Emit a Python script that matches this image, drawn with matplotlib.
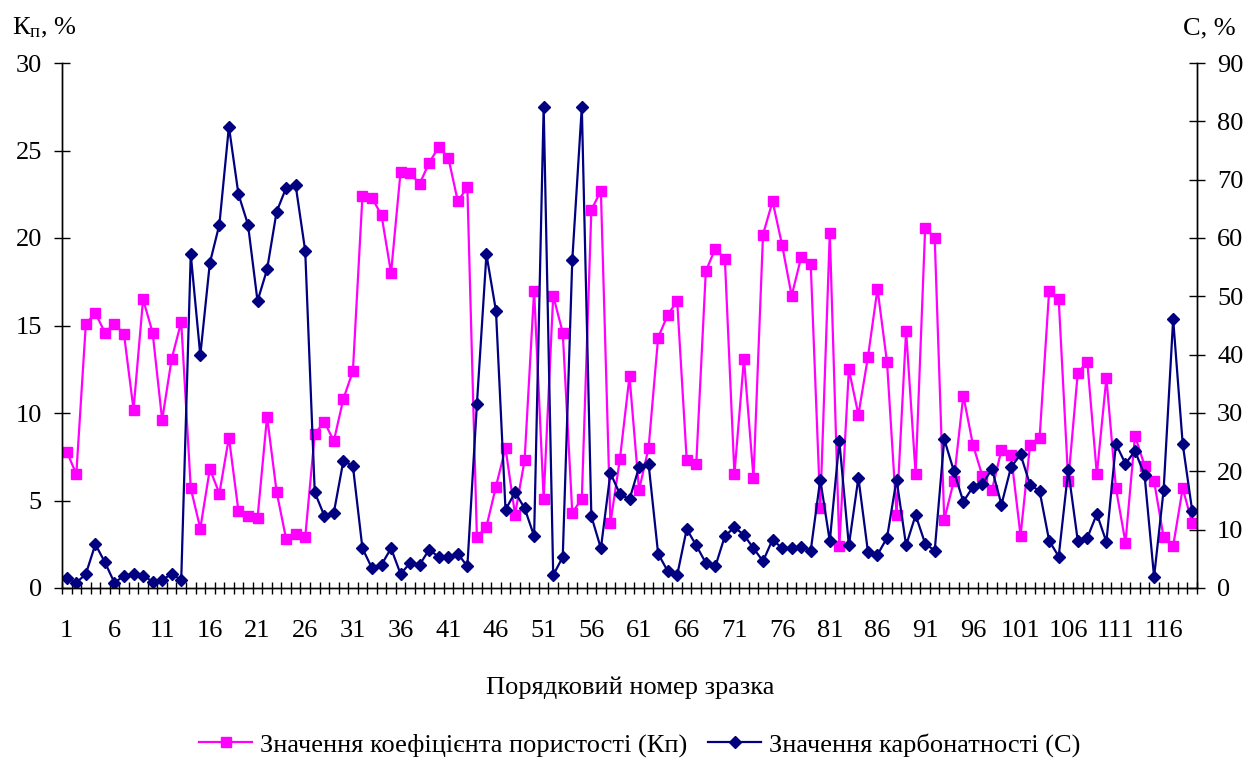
import numpy as np
from matplotlib import pyplot as plt

plt.rcParams['font.family'] = ['Liberation Serif', 'DejaVu Serif']
plt.rcParams['mathtext.fontset'] = 'custom'
plt.rcParams['mathtext.rm'] = 'Liberation Serif'
plt.rcParams['mathtext.it'] = 'Liberation Serif:italic'

# коефіцієнт пористості, % (ліва вісь)
kp = [7.8, 6.5, 15.1, 15.7, 14.6, 15.1, 14.5, 10.2, 16.5, 14.6,
      9.6, 13.1, 15.2, 5.7, 3.4, 6.8, 5.4, 8.6, 4.4, 4.1,
      4.0, 9.8, 5.5, 2.8, 3.1, 2.9, 8.8, 9.5, 8.4, 10.8,
      12.4, 22.4, 22.3, 21.3, 18.0, 23.8, 23.7, 23.1, 24.3, 25.2,
      24.6, 22.1, 22.9, 2.9, 3.5, 5.8, 8.0, 4.2, 7.3, 17.0,
      5.1, 16.7, 14.6, 4.3, 5.1, 21.6, 22.7, 3.7, 7.4, 12.1,
      5.6, 8.0, 14.3, 15.6, 16.4, 7.3, 7.1, 18.1, 19.4, 18.8,
      6.5, 13.1, 6.3, 20.2, 22.1, 19.6, 16.7, 18.9, 18.5, 4.6,
      20.3, 2.4, 12.5, 9.9, 13.2, 17.1, 12.9, 4.2, 14.7, 6.5,
      20.6, 20.0, 3.9, 6.1, 11.0, 8.2, 6.4, 5.6, 7.9, 7.6,
      3.0, 8.2, 8.6, 17.0, 16.5, 6.1, 12.3, 12.9, 6.5, 12.0,
      5.7, 2.6, 8.7, 7.0, 6.1, 2.9, 2.4, 5.7, 3.7]

# карбонатність, % (права вісь)
carb = [1.7, 0.9, 2.4, 7.5, 4.4, 0.9, 2.1, 2.4, 2.1, 1.1,
        1.4, 2.4, 1.4, 57.2, 39.9, 55.7, 62.3, 79.1, 67.5, 62.3,
        49.2, 54.6, 64.5, 68.6, 69.0, 57.8, 16.4, 12.4, 12.9, 21.8,
        20.9, 6.8, 3.4, 4.0, 6.8, 2.4, 4.3, 4.0, 6.6, 5.3,
        5.3, 5.9, 3.7, 31.5, 57.2, 47.5, 13.4, 16.4, 13.7, 8.9,
        82.5, 2.2, 5.3, 56.2, 82.5, 12.3, 6.8, 19.7, 16.1, 15.2,
        20.7, 21.3, 5.9, 2.9, 2.2, 10.1, 7.3, 4.3, 3.7, 8.9,
        10.4, 9.1, 6.8, 4.6, 8.3, 6.8, 6.8, 7.0, 6.4, 18.6,
        8.0, 25.2, 7.3, 18.9, 6.2, 5.7, 8.6, 18.6, 7.3, 12.5,
        7.6, 6.4, 25.5, 20.1, 14.8, 17.3, 17.8, 20.4, 14.3, 20.7,
        22.9, 17.7, 16.6, 8.1, 5.4, 20.2, 8.1, 8.6, 12.7, 7.9,
        24.7, 21.3, 23.5, 19.4, 1.9, 16.8, 46.1, 24.7, 13.2]

n = len(kp)
x = np.arange(1, n + 1)
fs = 19

fig = plt.figure(figsize=(12.47, 7.6), dpi=100)
ax1 = fig.add_axes([62 / 1247, 1 - 588 / 760, (1197 - 62) / 1247, (588 - 63) / 760])
ax2 = ax1.twinx()

l1, = ax1.plot(x, kp, color='#FF00FF', lw=1.6, marker='s', ms=6.5,
               label='Значення коефіцієнта пористості (Кп)')
l2, = ax2.plot(x, carb, color='#000080', lw=1.6, marker='D', ms=6.5,
               label='Значення карбонатності (С)')

ax1.set_xlim(0.5, n + 0.5)
ax1.set_ylim(0, 30)
ax2.set_ylim(0, 90)
ax1.set_yticks(range(0, 31, 5))
ax2.set_yticks(range(0, 91, 10))

# штрихи між категоріями, підписи - на кожній 5-й
ax1.set_xticks(np.arange(0.5, n + 1, 1.0))
ax1.set_xticklabels([])
ax1.set_xticks(np.arange(1, n + 1, 5), minor=True)
ax1.set_xticklabels([str(v) for v in range(1, n + 1, 5)], minor=True)
ax1.tick_params(axis='x', which='major', direction='inout', length=8, width=1)
ax1.tick_params(axis='x', which='minor', length=0, pad=23, labelsize=fs)

ax1.tick_params(axis='y', direction='inout', length=11, width=1, pad=9, labelsize=fs)
ax2.tick_params(axis='y', direction='inout', length=11, width=1, pad=9, labelsize=fs)

for ax in (ax1, ax2):
    ax.spines['top'].set_visible(False)
    for s in ax.spines.values():
        s.set_linewidth(1)

fig.text(12 / 1247, 1 - 28 / 760, r'К$_{\mathrm{п}}$, %', fontsize=fs, ha='left', va='center')
fig.text(1236 / 1247, 1 - 28 / 760, 'С, %', fontsize=fs, ha='right', va='center')
fig.text(630 / 1247, 1 - 688 / 760, 'Порядковий номер зразка', fontsize=fs, ha='center', va='center')

fig.legend(handles=[l1, l2], loc='center', bbox_to_anchor=(640 / 1247, 1 - 745 / 760),
           ncol=2, frameon=False, fontsize=fs, handlelength=2.0, handletextpad=0.3,
           columnspacing=0.8, borderaxespad=0)

fig.savefig('out.png', dpi=100)
